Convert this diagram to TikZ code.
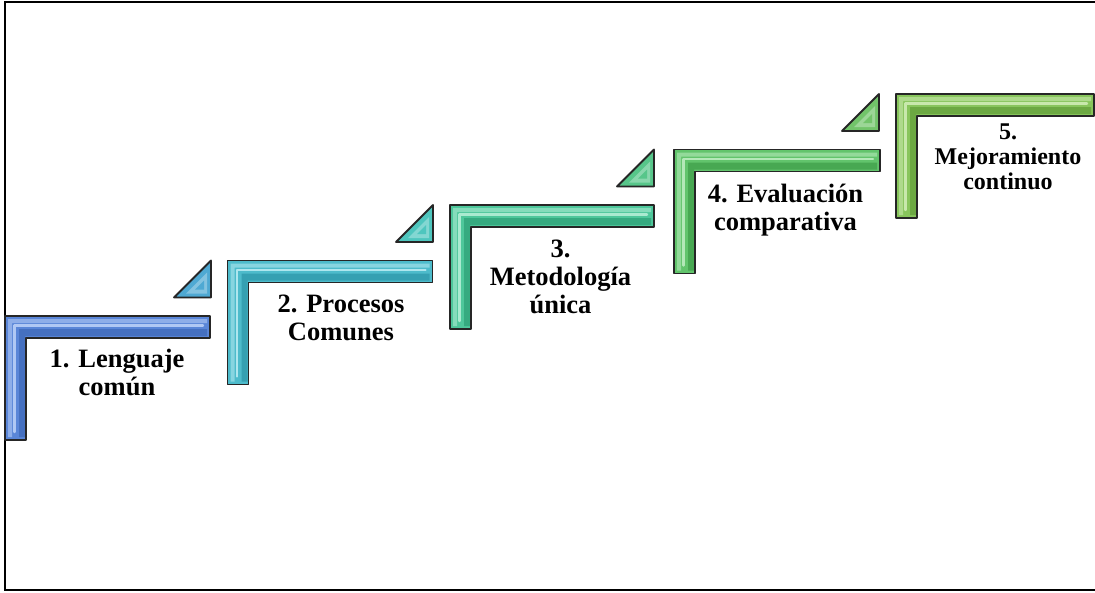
\documentclass[tikz,border=0pt]{standalone}
\usepackage{fontspec}
\setmainfont{Liberation Serif}
\definecolor{bluebase}{HTML}{5A86D8}\definecolor{bluelight}{HTML}{B0C8F4}\definecolor{bluedark}{HTML}{4570C0}
\definecolor{cyanbase}{HTML}{4DBBCB}\definecolor{cyanlight}{HTML}{AEE6EE}\definecolor{cyandark}{HTML}{35A0B2}
\definecolor{seabase}{HTML}{4EC79B}\definecolor{sealight}{HTML}{AAEAD0}\definecolor{seadark}{HTML}{36AA80}
\definecolor{grnbase}{HTML}{62C46C}\definecolor{grnlight}{HTML}{B4E8B8}\definecolor{grndark}{HTML}{48A852}
\definecolor{limebase}{HTML}{88C55C}\definecolor{limelight}{HTML}{C8E8AC}\definecolor{limedark}{HTML}{6CA842}
\definecolor{triA}{HTML}{4FA9D3}\definecolor{triB}{HTML}{4EC6BE}\definecolor{triC}{HTML}{57C68A}\definecolor{triD}{HTML}{72C46A}

% one L-shaped stair step: #1,#2 top-left corner, #3 bar length, #4 colour prefix
\newcommand{\stairstep}[4]{%
  \fill[#4base] (#1,#2) -- ++(#3,0) -- ++(0,22) -- ++(-#3+21,0) -- ++(0,102) -- ++(-21,0) -- cycle;
  % darker lower band of the horizontal bar and right band of the vertical bar
  \fill[#4dark] (#1+#3-3,#2+13) -- (#1+#3-3,#2+20) -- (#1+20,#2+20) -- (#1+20,#2+124-3)
     -- (#1+14,#2+124-3) -- (#1+14,#2+13) -- cycle;
  % lit upper band
  \fill[#4light!60!#4base] (#1+3,#2+3) -- (#1+#3-3,#2+3) -- (#1+#3-3,#2+7) -- (#1+7,#2+7)
     -- (#1+7,#2+124-3) -- (#1+3,#2+124-3) -- cycle;
  \draw[#4light, line width=2.4pt, line cap=round, line join=round]
    (#1+#3-7,#2+9.5) -- (#1+9.5,#2+9.5) -- (#1+9.5,#2+124-8);
  \draw[outline] (#1,#2) -- ++(#3,0) -- ++(0,22) -- ++(-#3+21,0) -- ++(0,102) -- ++(-21,0) -- cycle;
}
% small right-angled wedge: #1 right edge, #2 top, #3 colour
\newcommand{\stairwedge}[3]{%
  \fill[#3] (#1,#2) -- (#1-37,#2+37) -- (#1,#2+37) -- cycle;
  \fill[#3!70!white] (#1-4,#2+12) -- (#1-25,#2+33) -- (#1-4,#2+33) -- cycle;
  \fill[#3] (#1-7,#2+20) -- (#1-16,#2+29) -- (#1-7,#2+29) -- cycle;
  \draw[outline] (#1,#2) -- (#1-37,#2+37) -- (#1,#2+37) -- cycle;
}

\begin{document}
\begin{tikzpicture}[x=1pt, y=-1pt,
  outline/.style={draw=black!85, line width=1.8pt, line join=round},
  lbl/.style={anchor=north, inner sep=0pt, align=center,
    font=\bfseries\fontsize{26.5}{28}\selectfont},
  lblsmall/.style={anchor=north, inner sep=0pt, align=center,
    font=\bfseries\fontsize{24}{25}\selectfont}]
\useasboundingbox (0,0) rectangle (1095,592);
\begin{scope}
  \clip (0,0) rectangle (1095,592);
  % frame
  \draw[line width=2pt] (5,2) rectangle (1120,590);
  % wedges
  \stairwedge{211}{260.5}{triA}
  \stairwedge{433}{205}{triB}
  \stairwedge{654}{149.5}{triC}
  \stairwedge{879}{94}{triD}
  % steps
  \stairstep{5}{316}{205}{blue}
  \stairstep{227.5}{260.5}{205}{cyan}
  \stairstep{450}{205}{204}{sea}
  \stairstep{674}{149.5}{206}{grn}
  \stairstep{896}{94}{198}{lime}
\end{scope}
% labels
\node[lbl] (s1) at (117,349) {1. Lenguaje\\común};
\node[lbl] (s2) at (341,295) {2. Procesos\\Comunes};
\node[lbl] (s3) at (560.5,240) {3.\\Metodología\\única};
\node[lbl] (s4) at (785.5,184) {4. Evaluación\\comparativa};
\node[lblsmall] (s5) at (1008,123.7) {5.\\Mejoramiento\\continuo};
\end{tikzpicture}
\end{document}
